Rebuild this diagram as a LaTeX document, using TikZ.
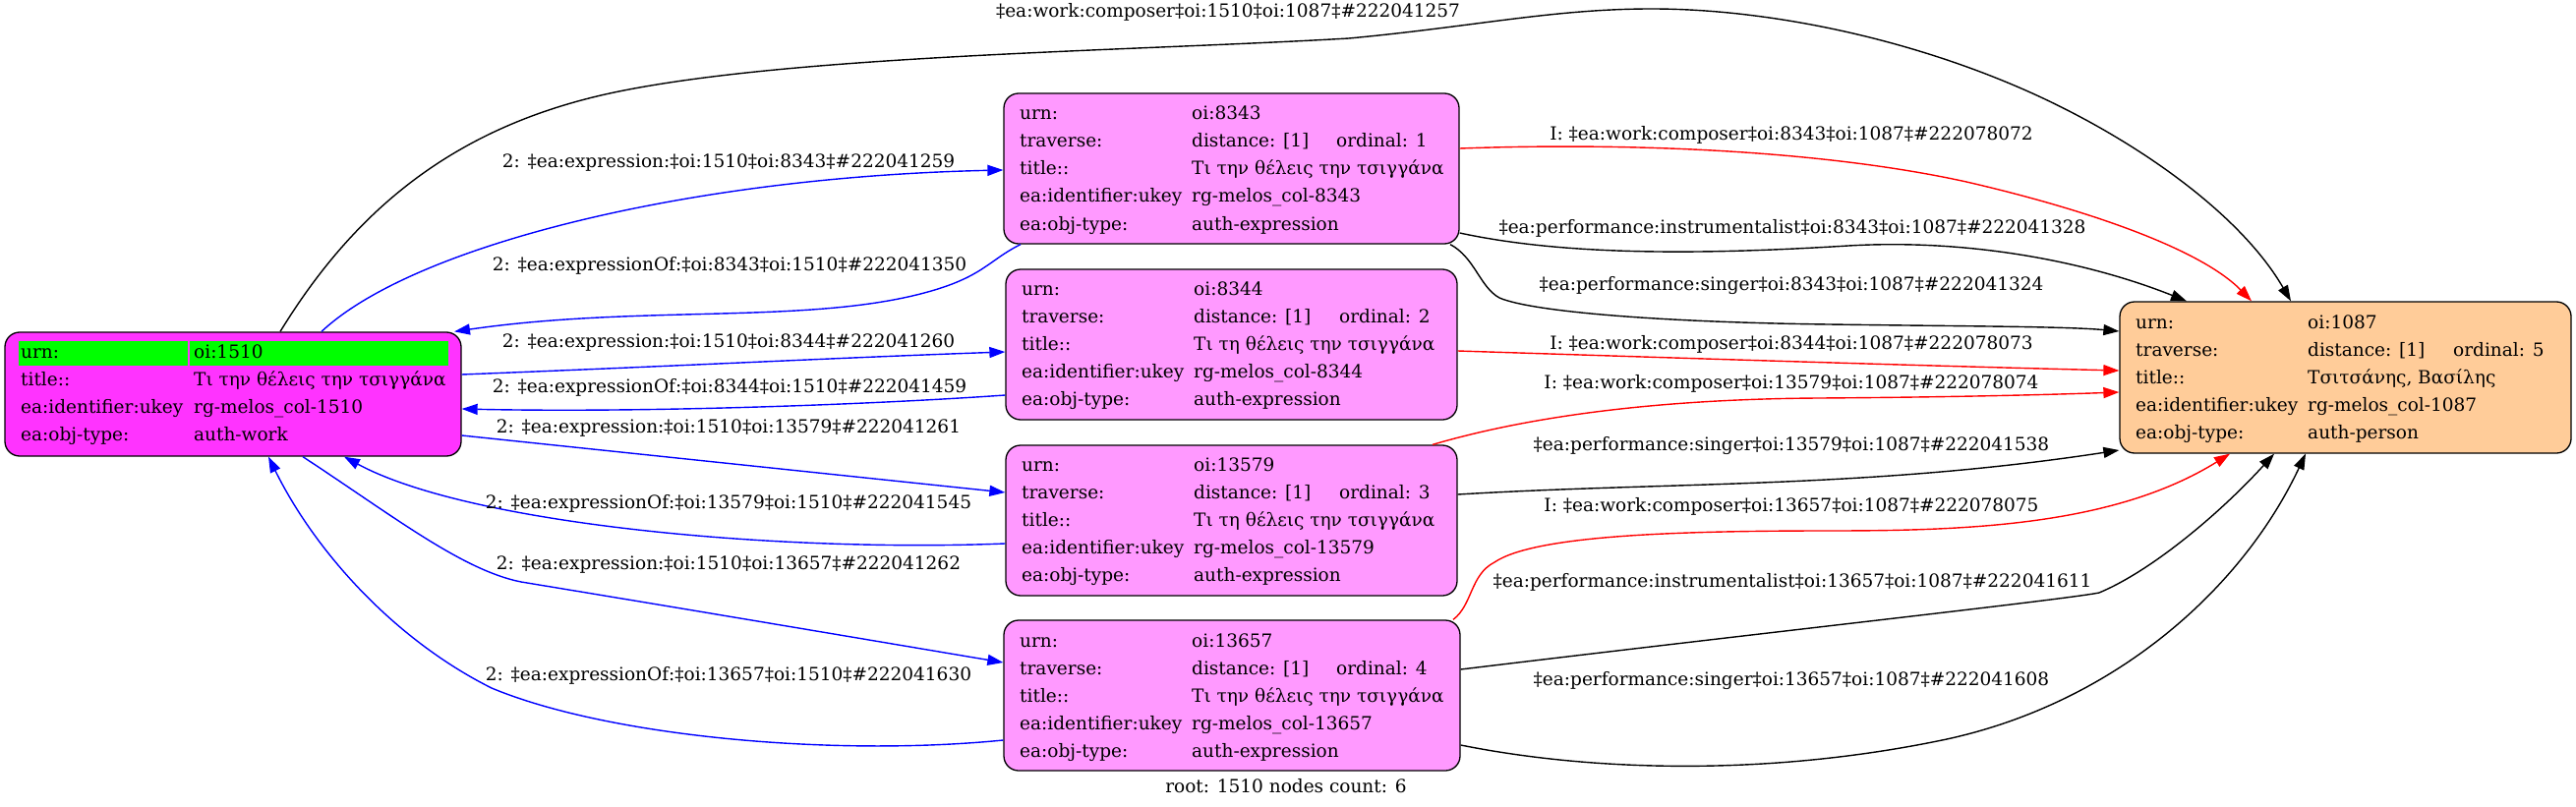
\documentclass[tikz,border=0pt]{standalone}
\usepackage{fontspec}
\setmainfont{DejaVu Serif}
\usetikzlibrary{arrows.meta}
\definecolor{workc}{RGB}{255,51,255}
\definecolor{exprc}{RGB}{255,153,255}
\definecolor{persc}{RGB}{255,204,153}
\definecolor{hlc}{RGB}{0,255,0}
\newcommand\recbox[6]{%
  \node[boxs, fill=#6, minimum width={#4-#2}, minimum height={#5-#3}] (#1) at ({(#2+#4)/2},{(#3+#5)/2}) {};}
\newcommand\kvrow[6]{%
  \node[kt] (#1k) at (#2,#4) {#5};
  \node[kt] (#1v) at (#3,#4) {#6};}
\newcommand\travrow[6]{%
  \node[kt] (#1k) at (#2,#5) {traverse:};
  \node[kt] (#1v) at (#3,#5) {distance: [1]};
  \node[kt] (#1o) at (#4,#5) {ordinal: #6};}
\begin{document}
\begin{tikzpicture}[x=1pt,y=-1pt,
  font=\fontsize{18.5}{22}\selectfont,
  boxs/.style={draw, line width=1.3pt, rounded corners=15pt, inner sep=0pt},
  kt/.style={anchor=base west, inner sep=0pt},
  lbl/.style={anchor=base, inner sep=0pt},
  conn/.style={line width=1.4pt, -{Triangle[length=16pt,width=11pt]}}]
\useasboundingbox (0,0) rectangle (2620,821);
% boxes
\recbox{w1510}{5}{338}{469}{464}{workc}
\recbox{e8343}{1021}{95}{1484}{248}{exprc}
\recbox{e8344}{1023}{274}{1482}{427}{exprc}
\recbox{e13579}{1023}{453}{1482}{606}{exprc}
\recbox{e13657}{1021}{631}{1485}{784}{exprc}
\recbox{p1087}{2156}{307}{2615}{461}{persc}
\fill[hlc] (19,347) rectangle (191,372);
\fill[hlc] (193,347) rectangle (456,372);
% texts 1510
\kvrow{wa}{21}{197}{364}{urn:}{oi:1510}
\kvrow{wb}{21}{197}{392}{title::}{Τι την θέλεις την τσιγγάνα}
\kvrow{wc}{21}{197}{420}{ea:identifier:ukey}{rg-melos\_col-1510}
\kvrow{wd}{21}{197}{448}{ea:obj-type:}{auth-work}
% 8343
\kvrow{aa}{1037}{1212}{122}{urn:}{oi:8343}
\travrow{ab}{1037}{1212}{1359}{150}{1}
\kvrow{ac}{1037}{1212}{178}{title::}{Τι την θέλεις την τσιγγάνα}
\kvrow{ad}{1037}{1212}{206}{ea:identifier:ukey}{rg-melos\_col-8343}
\kvrow{ae}{1037}{1212}{234}{ea:obj-type:}{auth-expression}
% 8344
\kvrow{ba}{1039}{1214}{300}{urn:}{oi:8344}
\travrow{bb}{1039}{1214}{1362}{328}{2}
\kvrow{bc}{1039}{1214}{356}{title::}{Τι τη θέλεις την τσιγγάνα}
\kvrow{bd}{1039}{1214}{384}{ea:identifier:ukey}{rg-melos\_col-8344}
\kvrow{be}{1039}{1214}{412}{ea:obj-type:}{auth-expression}
% 13579
\kvrow{ca}{1039}{1214}{479}{urn:}{oi:13579}
\travrow{cb}{1039}{1214}{1362}{507}{3}
\kvrow{cc}{1039}{1214}{535}{title::}{Τι τη θέλεις την τσιγγάνα}
\kvrow{cd}{1039}{1214}{563}{ea:identifier:ukey}{rg-melos\_col-13579}
\kvrow{ce}{1039}{1214}{591}{ea:obj-type:}{auth-expression}
% 13657
\kvrow{da}{1037}{1212}{658}{urn:}{oi:13657}
\travrow{db}{1037}{1212}{1359}{686}{4}
\kvrow{dc}{1037}{1212}{714}{title::}{Τι την θέλεις την τσιγγάνα}
\kvrow{dd}{1037}{1212}{742}{ea:identifier:ukey}{rg-melos\_col-13657}
\kvrow{de}{1037}{1212}{770}{ea:obj-type:}{auth-expression}
% 1087
\kvrow{pa}{2172}{2347}{334}{urn:}{oi:1087}
\travrow{pb}{2172}{2347}{2495}{362}{5}
\kvrow{pc}{2172}{2347}{390}{title::}{Τσιτσάνης, Βασίλης}
\kvrow{pd}{2172}{2347}{418}{ea:identifier:ukey}{rg-melos\_col-1087}
\kvrow{pe}{2172}{2347}{446}{ea:obj-type:}{auth-person}
% blue edges
\draw[conn, blue] (w1510.north -| 327,0) .. controls (420,250) and (700,180) .. (e8343.west |- 0,173);
\draw[conn, blue] (e8343.south -| 1038,0) .. controls (1005,265) and (1000,282) .. (940,298) .. controls (820,330) and (650,310) .. (w1510.north -| 462,0);
\draw[conn, blue] (w1510.east |- 0,381) .. controls (700,372) and (850,364) .. (e8344.west |- 0,358);
\draw[conn, blue] (e8344.west |- 0,402) .. controls (880,412) and (650,420) .. (w1510.east |- 0,416);
\draw[conn, blue] (w1510.east |- 0,443) -- (e13579.west |- 0,501);
\draw[conn, blue] (e13579.west |- 0,553) .. controls (800,562) and (480,535) .. (w1510.south -| 350,0);
\draw[conn, blue] (w1510.south -| 308,0) .. controls (400,525) and (470,580) .. (530,592) .. controls (700,620) and (860,647) .. (e13657.west |- 0,674);
\draw[conn, blue] (e13657.west |- 0,753) .. controls (850,770) and (620,750) .. (500,700) .. controls (400,650) and (320,560) .. (w1510.south -| 273,0);
% black top arc
\draw[conn] (w1510.north -| 285,0) .. controls (360,215) and (460,130) .. (620,95) .. controls (800,56) and (1150,52) .. (1372,39) .. controls (1500,27) and (1580,9) .. (1680,9) .. controls (1800,9) and (1950,40) .. (2078,100) .. controls (2180,148) and (2280,220) .. (p1087.north -| 2330,0);
% right side edges
\draw[conn] (e8343.east |- 0,237) .. controls (1600,262) and (1750,258) .. (1880,250) .. controls (2000,243) and (2120,265) .. (p1087.north -| 2224,0);
\draw[conn] (e8343.south -| 1475,0) .. controls (1500,262) and (1505,292) .. (1525,303) .. controls (1560,318) and (1700,328) .. (1860,330) .. controls (2000,332) and (2100,332) .. (p1087.west |- 0,337);
\draw[conn, red] (e8343.east |- 0,151) .. controls (1650,145) and (1850,152) .. (2000,185) .. controls (2130,215) and (2240,255) .. (p1087.north -| 2290,0);
\draw[conn, red] (e8344.east |- 0,357) .. controls (1700,364) and (1950,372) .. (p1087.west |- 0,377);
\draw[conn, red] (e13579.north -| 1457,0) .. controls (1550,425) and (1680,406) .. (1850,405) .. controls (2000,404) and (2100,401) .. (p1087.west |- 0,399);
\draw[conn] (e13579.east |- 0,503) .. controls (1700,490) and (1900,497) .. (p1087.west |- 0,458);
\draw[conn, red] (e13657.north -| 1478,0) .. controls (1498,615) and (1495,585) .. (1520,572) .. controls (1560,545) and (1700,540) .. (1860,540) .. controls (2000,540) and (2150,535) .. (p1087.south -| 2268,0);
\draw[conn] (e13657.east |- 0,681) .. controls (1800,643) and (2100,610) .. (2135,603) .. controls (2190,580) and (2260,520) .. (p1087.south -| 2313,0);
\draw[conn] (e13657.east |- 0,758) .. controls (1620,785) and (1800,790) .. (1980,752) .. controls (2150,715) and (2280,600) .. (p1087.south -| 2345,0);
% labels
\node[lbl] (l1) at (741,171) {2: ‡ea:expression:‡oi:1510‡oi:8343‡\#222041259};
\node[lbl] (l2) at (742,275) {2: ‡ea:expressionOf:‡oi:8343‡oi:1510‡\#222041350};
\node[lbl] (l3) at (741,353) {2: ‡ea:expression:‡oi:1510‡oi:8344‡\#222041260};
\node[lbl] (l4) at (742,399) {2: ‡ea:expressionOf:‡oi:8344‡oi:1510‡\#222041459};
\node[lbl] (l5) at (741,440) {2: ‡ea:expression:‡oi:1510‡oi:13579‡\#222041261};
\node[lbl] (l6) at (741,517) {2: ‡ea:expressionOf:‡oi:13579‡oi:1510‡\#222041545};
\node[lbl] (l7) at (741,579) {2: ‡ea:expression:‡oi:1510‡oi:13657‡\#222041262};
\node[lbl] (l8) at (741,692) {2: ‡ea:expressionOf:‡oi:13657‡oi:1510‡\#222041630};
\node[lbl] (l9) at (1249,18) {‡ea:work:composer‡oi:1510‡oi:1087‡\#222041257};
\node[lbl] (l10) at (1823,237) {‡ea:performance:instrumentalist‡oi:8343‡oi:1087‡\#222041328};
\node[lbl] (l11) at (1822,295) {‡ea:performance:singer‡oi:8343‡oi:1087‡\#222041324};
\node[lbl] (l12) at (1822,143) {I: ‡ea:work:composer‡oi:8343‡oi:1087‡\#222078072};
\node[lbl] (l13) at (1822,355) {I: ‡ea:work:composer‡oi:8344‡oi:1087‡\#222078073};
\node[lbl] (l14) at (1822,395) {I: ‡ea:work:composer‡oi:13579‡oi:1087‡\#222078074};
\node[lbl] (l15) at (1822,458) {‡ea:performance:singer‡oi:13579‡oi:1087‡\#222041538};
\node[lbl] (l16) at (1822,520) {I: ‡ea:work:composer‡oi:13657‡oi:1087‡\#222078075};
\node[lbl] (l17) at (1823,597) {‡ea:performance:instrumentalist‡oi:13657‡oi:1087‡\#222041611};
\node[lbl] (l18) at (1822,697) {‡ea:performance:singer‡oi:13657‡oi:1087‡\#222041608};
\node[lbl] (root) at (1308,806) {root: 1510 nodes count: 6};
\end{tikzpicture}
\end{document}
